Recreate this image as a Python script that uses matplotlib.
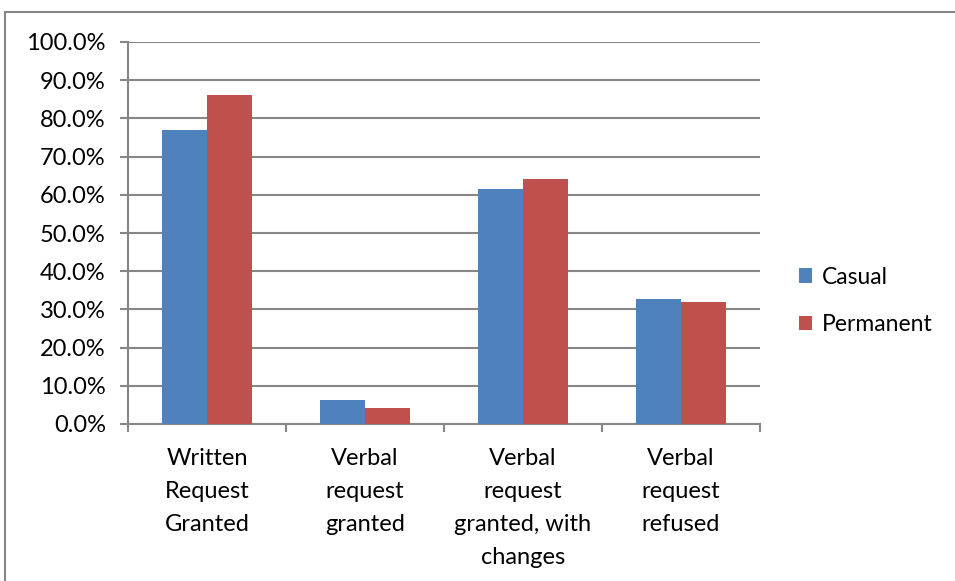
import matplotlib.pyplot as plt
from matplotlib.patches import Rectangle
import numpy as np

plt.rcParams['font.family'] = ['Lato', 'DejaVu Sans']

categories = ["Written\nRequest\nGranted", "Verbal\nrequest\ngranted",
              "Verbal\nrequest\ngranted, with\nchanges", "Verbal\nrequest\nrefused"]
casual = [77.0, 6.2, 61.5, 32.6]
permanent = [86.0, 4.3, 64.1, 31.9]
yticks = np.arange(0, 101, 10)

blue = "#4f81bd"
red = "#c0504d"
grid = "#868686"

fig = plt.figure(figsize=(9.55, 5.81), dpi=100)
ax = fig.add_axes([128/955, 1 - 424/581, (760-128)/955, (424-42)/581])

x = np.arange(len(categories))
w = 45/158
ax.bar(x - w/2, casual, w, color=blue, label="Casual", zorder=3)
ax.bar(x + w/2, permanent, w, color=red, label="Permanent", zorder=3)

ax.set_xlim(-0.5, len(categories) - 0.5)
ax.set_ylim(0, 100)
ax.set_yticks(yticks)
ax.set_yticklabels(["%.1f%%" % v for v in yticks], fontsize=17)
ax.yaxis.grid(True, color=grid, linewidth=1.5, zorder=0)

ax.set_xticks(x)
ax.set_xticklabels(categories, fontsize=17, linespacing=1.7, va="top")
ax.set_xticks(np.arange(-0.5, len(categories)), minor=True)
ax.tick_params(axis="x", which="major", length=0, pad=17.5)
ax.tick_params(axis="x", which="minor", length=6, color=grid, width=1.5, direction="out")
ax.tick_params(axis="y", length=6, color=grid, width=1.5, direction="out", pad=10)

for s in ["top", "right"]:
    ax.spines[s].set_visible(False)
for s in ["left", "bottom"]:
    ax.spines[s].set_color(grid)
    ax.spines[s].set_linewidth(1.5)

ax.legend(loc="center left", bbox_to_anchor=(650/632, 0.322), frameon=False,
          fontsize=16.5, handlelength=0.6, handleheight=0.6, labelspacing=1.15,
          handletextpad=0.4)

# outer chart border
fig.patches.append(Rectangle((5/955, -0.1), 1.2, 1 - 12/581 + 0.1, transform=fig.transFigure,
                             fill=False, edgecolor=grid, linewidth=1.5))

fig.savefig("out.png", dpi=100)
